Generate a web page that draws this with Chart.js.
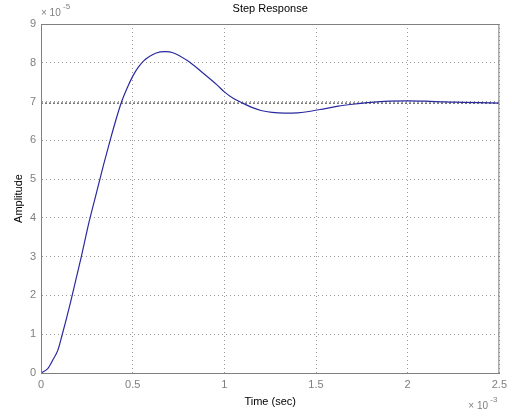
<!DOCTYPE html>
<html>
<head>
<meta charset="utf-8">
<title>Step Response</title>
<script src="https://cdn.jsdelivr.net/npm/chart.js@4.4.0/dist/chart.umd.min.js"></script>
<style>
    html, body { margin: 0; padding: 0; background: #fff; }
    #wrap { width: 512px; height: 416px; }
</style>
</head>
<body>
<div id="wrap"><canvas id="step-chart" width="512" height="416"></canvas></div>
<script>
// Time in units of 1e-3 sec, amplitude in units of 1e-5
const timeValues = [0, 0.038, 0.065, 0.092, 0.114, 0.137, 0.161, 0.19, 0.22, 0.26,
    0.30, 0.34, 0.38, 0.41, 0.44, 0.47, 0.50, 0.53, 0.56, 0.60,
    0.65, 0.68, 0.72, 0.80, 0.88, 0.96, 1.0, 1.05, 1.1, 1.15,
    1.2, 1.26, 1.33, 1.40, 1.47, 1.55, 1.62, 1.7, 1.8, 1.9,
    2.0, 2.1, 2.2, 2.3, 2.4, 2.5];
const amplitudeValues = [0, 0.12, 0.34, 0.59, 0.96, 1.37, 1.82, 2.40, 3.0, 3.85,
    4.6, 5.35, 6.05, 6.55, 7.0, 7.35, 7.65, 7.88, 8.05, 8.19,
    8.28, 8.29, 8.26, 8.05, 7.75, 7.43, 7.25, 7.08, 6.96, 6.85,
    6.77, 6.72, 6.70, 6.71, 6.75, 6.82, 6.88, 6.93, 6.98, 7.01,
    7.02, 7.01, 6.99, 6.98, 6.97, 6.96];
const steadyStateValue = 6.96;
const xTickValues = [0, 0.5, 1, 1.5, 2, 2.5];
const yTickValues = [0, 1, 2, 3, 4, 5, 6, 7, 8, 9];

const FONT = "'Liberation Sans', Arial, Helvetica, sans-serif";
const GREY = '#7f7f7f';

const curvePoints = timeValues.map((t, i) => ({ x: t, y: amplitudeValues[i] }));
const steadyPoints = [
    { x: xTickValues[0], y: steadyStateValue },
    { x: xTickValues[xTickValues.length - 1], y: steadyStateValue }
];

// Box frame, title and exponent labels in MATLAB style
const matlabDecor = {
    id: 'matlabDecor',
    afterDraw(chart) {
        const { ctx, chartArea: a } = chart;
        ctx.save();
        ctx.strokeStyle = GREY;
        ctx.lineWidth = 1;
        ctx.strokeRect(a.left + 0.5, a.top + 0.5, a.right - a.left - 1, a.bottom - a.top);

        ctx.fillStyle = '#000';
        ctx.font = '11px ' + FONT;
        ctx.textAlign = 'center';
        ctx.textBaseline = 'middle';
        ctx.fillText('Step Response', (a.left + a.right) / 2, 9);

        ctx.fillStyle = GREY;
        ctx.textAlign = 'left';
        ctx.textBaseline = 'alphabetic';
        ctx.font = '10px ' + FONT;
        ctx.fillText('\u00d7 10', a.left, 16);
        ctx.font = '8px ' + FONT;
        ctx.fillText('-5', a.left + 22, 9);

        ctx.font = '10px ' + FONT;
        ctx.fillText('\u00d7 10', a.right - 31, 409);
        ctx.font = '8px ' + FONT;
        ctx.fillText('-3', a.right - 9, 402);
        ctx.restore();
    }
};

const ctx = document.getElementById('step-chart');
new Chart(ctx, {
    type: 'line',
    data: {
        datasets: [{
            label: 'Steady state',
            data: steadyPoints,
            borderColor: '#222',
            borderWidth: 1,
            borderDash: [2, 2],
            pointRadius: 0,
            fill: false,
            order: 2
        }, {
            label: 'Step response',
            data: curvePoints,
            borderColor: '#2a2aa0',
            borderWidth: 1.2,
            pointRadius: 0,
            fill: false,
            cubicInterpolationMode: 'monotone',
            order: 1
        }]
    },
    options: {
        responsive: false,
        animation: false,
        layout: { padding: { top: 24, right: 9, left: 0, bottom: 0 } },
        plugins: {
            legend: { display: false },
            tooltip: { enabled: false }
        },
        scales: {
            x: {
                type: 'linear',
                min: 0,
                max: 2.5,
                afterFit: (scale) => { scale.height = 43; },
                afterBuildTicks: (scale) => { scale.ticks = xTickValues.map(v => ({ value: v })); },
                grid: { color: '#9a9a9a', drawTicks: false },
                border: { display: true, color: GREY, dash: [1, 3] },
                ticks: {
                    color: GREY,
                    font: { family: FONT, size: 11 },
                    padding: 5,
                    maxRotation: 0,
                    callback: (v) => String(v)
                },
                title: {
                    display: true,
                    text: 'Time (sec)',
                    color: '#000',
                    font: { family: FONT, size: 11 },
                    padding: { top: 0, bottom: 7 }
                }
            },
            y: {
                type: 'linear',
                min: 0,
                max: 9,
                afterFit: (scale) => { scale.width = 41; },
                afterBuildTicks: (scale) => { scale.ticks = yTickValues.map(v => ({ value: v })); },
                grid: { color: '#9a9a9a', drawTicks: false },
                border: { display: true, color: GREY, dash: [1, 3] },
                ticks: {
                    color: GREY,
                    font: { family: FONT, size: 11 },
                    padding: 5,
                    callback: (v) => String(v)
                },
                title: {
                    display: true,
                    text: 'Amplitude',
                    color: '#000',
                    font: { family: FONT, size: 11 },
                    padding: { top: 12, bottom: 0 }
                }
            }
        }
    },
    plugins: [matlabDecor]
});
</script>
</body>
</html>
